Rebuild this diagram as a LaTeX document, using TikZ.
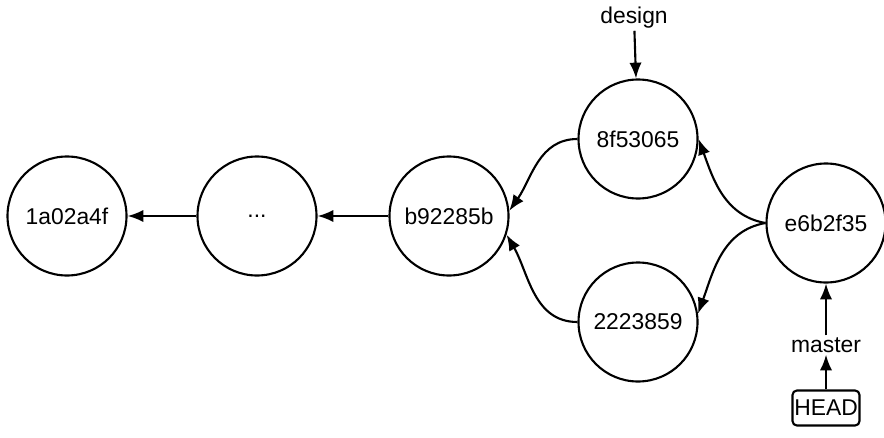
\documentclass[tikz,border=0pt]{standalone}
\usepackage{fontspec}
\setmainfont{Liberation Sans}
\usetikzlibrary{arrows.meta}

\tikzset{
  commit/.style={draw,circle,line width=1.2pt,minimum size=2.38cm,inner sep=0pt,font=\fontsize{13}{15}\selectfont},
  pointer/.style={font=\fontsize{13}{15}\selectfont,inner sep=1pt},
  headbox/.style={draw,rounded corners=2.5pt,line width=1.2pt,minimum width=1.32cm,minimum height=0.7cm,inner sep=1pt,font=\fontsize{13}{15}\selectfont},
  link/.style={line width=1.2pt,-{Latex[length=9pt,width=7pt]}}
}

\begin{document}
\begin{tikzpicture}
            \useasboundingbox (0,0) rectangle (17.68,8.74);
            \node[commit] (c1) at (1.34,4.42) {1a02a4f};
            \node[commit] (cdots) at (5.14,4.42) {...};
            \node[commit] (cb9) at (8.98,4.42) {b92285b};
            \node[commit] (c8f) at (12.76,5.96) {8f53065};
            \node[commit] (c22) at (12.76,2.30) {2223859};
            \node[commit] (ce6) at (16.52,4.28) {e6b2f35};
            \node[pointer] (design) at (12.68,8.38) {design};
            \node[pointer] (master) at (16.52,1.84) {master};
            \node[headbox] (head) at (16.52,0.58) {HEAD};
            \draw[link] (cdots) -- (c1);
            \draw[link] (cb9) -- (cdots);
            \draw[link] (c8f.west) to[out=180,in=55] (cb9.5);
            \draw[link] (c22.west) to[out=180,in=-60] (cb9.-18);
            \draw[link] (ce6.west) to[out=170,in=-70] (c8f.east);
            \draw[link] (ce6.west) to[out=190,in=70] (c22.8);
            \draw[link] (design) -- (c8f);
            \draw[link] (master) -- (ce6);
            \draw[link] (head) -- (master);
        \end{tikzpicture}
\end{document}
